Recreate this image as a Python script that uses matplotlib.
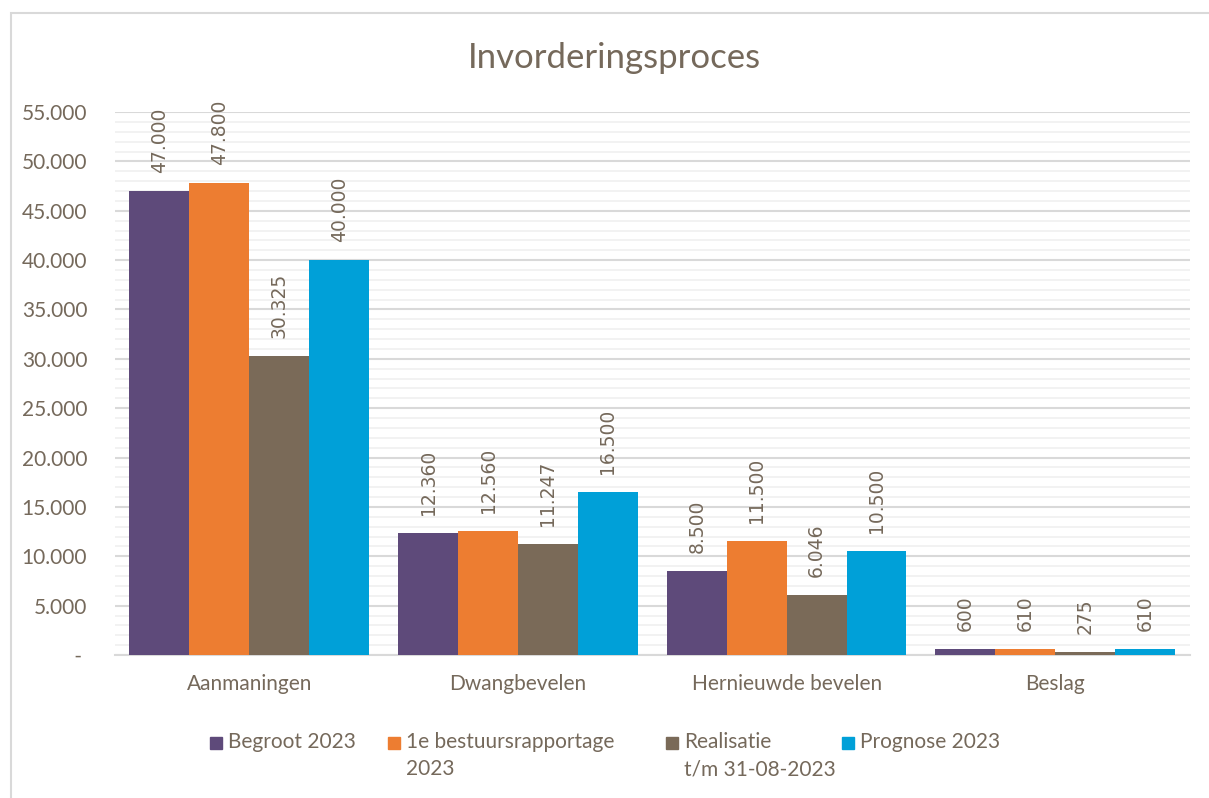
import numpy as np
import matplotlib.pyplot as plt
from matplotlib.patches import Rectangle
from matplotlib.ticker import MultipleLocator, FuncFormatter

categories = ['Aanmaningen', 'Dwangbevelen', 'Hernieuwde bevelen', 'Beslag']
series_names = ['Begroot 2023', '1e bestuursrapportage\n2023', 'Realisatie\nt/m 31-08-2023', 'Prognose 2023']
begroot = [47000, 12360, 8500, 600]
bestuur = [47800, 12560, 11500, 610]
realisatie = [30325, 11247, 6046, 275]
prognose = [40000, 16500, 10500, 610]

colors = ['#5E4A7A', '#ED7D31', '#7A6A58', '#00A0D8']
text_color = '#75695B'

plt.rcParams['font.family'] = ['Lato', 'DejaVu Sans']

W, H = 1209, 798
fig = plt.figure(figsize=(W / 100, H / 100), dpi=100)
ax = fig.add_axes([0.0951, 0.1792, 0.8889, 0.6804])

# light frame around the chart
fig.patches.append(Rectangle((11 / W, -0.1), 1.2, 1 - 13 / H + 0.1,
                             transform=fig.transFigure, fill=False,
                             edgecolor='#D9D9D9', linewidth=1.5))

x = np.arange(len(categories))
width = 0.223
all_series = [begroot, bestuur, realisatie, prognose]

def fmt(v):
    return f'{v:,.0f}'.replace(',', '.')

for i, (vals, c) in enumerate(zip(all_series, colors)):
    pos = x + (i - 1.5) * width
    ax.bar(pos, vals, width, color=c, zorder=3)
    for px, v in zip(pos, vals):
        ax.annotate(fmt(v), (px, v), xytext=(0, 13), textcoords='offset points',
                    rotation=90, ha='center', va='bottom', fontsize=13.5,
                    color=text_color, family='DejaVu Sans', annotation_clip=False)

ax.set_xlim(-0.5, 3.5)
ax.set_ylim(0, 55000)
ax.yaxis.set_major_locator(MultipleLocator(5000))
ax.yaxis.set_minor_locator(MultipleLocator(1000))
ax.yaxis.set_major_formatter(FuncFormatter(lambda v, p: ' - ' if v == 0 else fmt(v)))
ax.grid(axis='y', which='major', color='#D9D9D9', linewidth=1.5, zorder=0)
ax.grid(axis='y', which='minor', color='#F0F0F0', linewidth=1.2, zorder=0)

for s in ['top', 'right', 'left']:
    ax.spines[s].set_visible(False)
ax.spines['bottom'].set_color('#D9D9D9')
ax.spines['bottom'].set_linewidth(1.5)

ax.set_xticks(x)
ax.set_xticklabels(categories)
ax.tick_params(axis='both', which='both', length=0, colors=text_color, labelsize=15)
ax.tick_params(axis='x', pad=14)
ax.tick_params(axis='y', pad=20)

fig.text(0.508, 1 - 58 / H, 'Invorderingsproces', ha='center', va='center',
         fontsize=25, color=text_color)

# legend, drawn by hand so the marker lines up with the first text line
legend_x = [210, 388, 666, 842]
for lx, name, c in zip(legend_x, series_names, colors):
    fig.patches.append(Rectangle((lx / W, 1 - 749 / H), 12 / W, 12 / H,
                                 transform=fig.transFigure, color=c))
    fig.text((lx + 18) / W, 1 - 732 / H, name, ha='left', va='top', fontsize=15,
             color=text_color, linespacing=1.45)

fig.savefig('out.png', dpi=100)
